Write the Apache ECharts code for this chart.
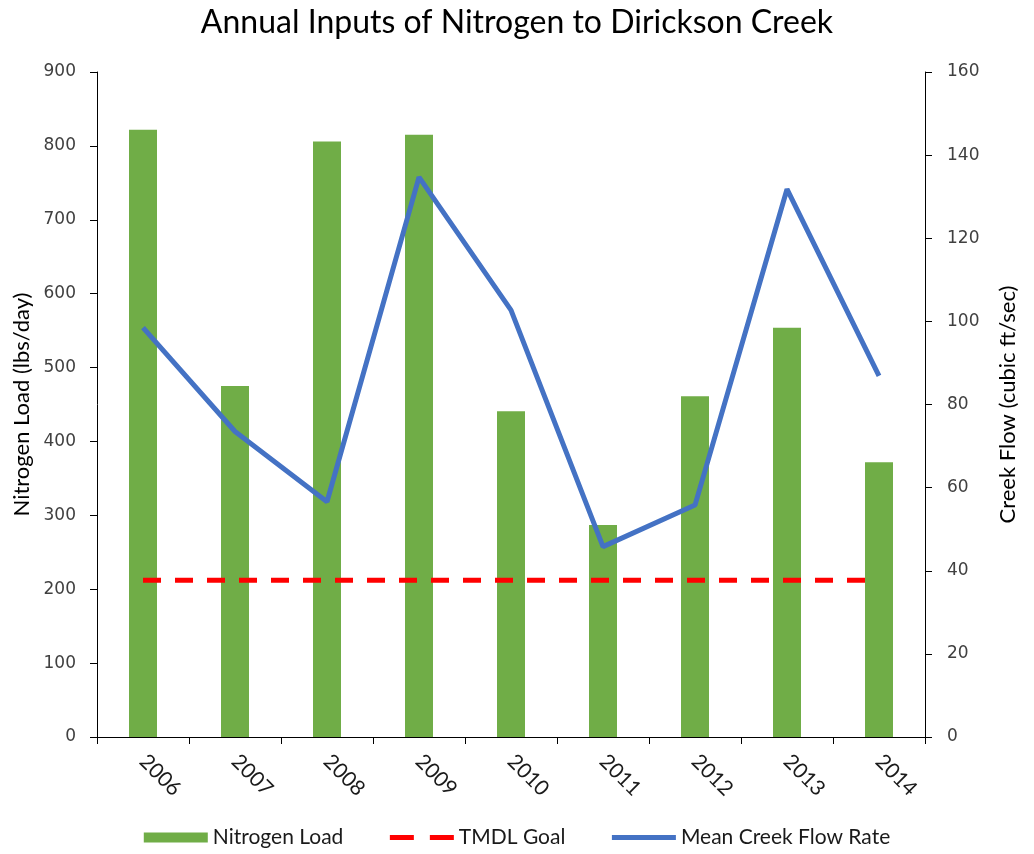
<!DOCTYPE html>
<html>
<head>
<meta charset="utf-8">
<script src="https://cdn.jsdelivr.net/npm/echarts@6/dist/echarts.min.js"></script>
<style>
  html, body { margin: 0; padding: 0; background: #fff; }
  #chart { width: 1034px; height: 854px; }
</style>
</head>
<body>
<div id="chart"></div>
<script>
// data
const years = ["2006", "2007", "2008", "2009", "2010", "2011", "2012", "2013", "2014"];
const nitrogenLoad = [822, 475, 806, 815, 441, 287, 461, 554, 372];
const tmdlGoal = [212, 212, 212, 212, 212, 212, 212, 212, 212];
const creekFlow = [98.5, 73.5, 56.6, 134.7, 102.7, 45.8, 55.8, 131.8, 86.9];

const labelFont = "DejaVu Sans";
const textFont = "Lato";

const chart = echarts.init(document.getElementById("chart"));
chart.setOption({
  animation: false,
  title: {
    text: "Annual Inputs of Nitrogen to Dirickson Creek",
    left: "center",
    top: 2,
    textStyle: { fontFamily: textFont, fontSize: 32, fontWeight: "normal", color: "#000" },
  },
  grid: { left: 97, right: 109, top: 72, bottom: 117 },
  legend: {
    bottom: 1,
    left: "center",
    itemGap: 44,
    itemWidth: 64,
    itemHeight: 10,
    textStyle: { fontFamily: textFont, fontSize: 21, color: "#1a1a1a" },
    data: [
      { name: "Nitrogen Load", icon: "rect" },
      { name: "TMDL Goal", itemStyle: { opacity: 0 }, lineStyle: { width: 5, type: [24, 16] } },
      { name: "Mean Creek Flow Rate", itemStyle: { opacity: 0 }, lineStyle: { width: 5 } },
    ],
  },
  xAxis: {
    type: "category",
    data: years,
    axisLine: { lineStyle: { color: "#000", width: 1 } },
    axisTick: { show: true, length: 7, lineStyle: { color: "#000" } },
    axisLabel: {
      rotate: -45,
      margin: 21,
      fontFamily: textFont,
      fontSize: 21,
      color: "#1a1a1a",
    },
  },
  yAxis: [
    {
      type: "value",
      min: 0,
      max: 900,
      interval: 100,
      name: "Nitrogen Load (lbs/day)",
      nameLocation: "middle",
      nameGap: 64,
      nameTextStyle: { fontFamily: textFont, fontSize: 22, color: "#000" },
      axisLine: { show: true, lineStyle: { color: "#000" } },
      axisTick: { show: true, length: 7, lineStyle: { color: "#000" } },
      splitLine: { show: false },
      axisLabel: { fontFamily: labelFont, fontSize: 17, color: "#404040", margin: 21 },
    },
    {
      type: "value",
      min: 0,
      max: 160,
      interval: 20,
      name: "Creek Flow (cubic ft/sec)",
      nameLocation: "middle",
      nameGap: 72,
      nameRotate: 90,
      nameTextStyle: { fontFamily: textFont, fontSize: 22, color: "#000" },
      axisLine: { show: true, lineStyle: { color: "#000" } },
      axisTick: { show: true, length: 7, lineStyle: { color: "#000" } },
      splitLine: { show: false },
      axisLabel: { fontFamily: labelFont, fontSize: 17, color: "#404040", margin: 22 },
    },
  ],
  series: [
    {
      name: "Nitrogen Load",
      type: "bar",
      data: nitrogenLoad,
      barWidth: 28,
      itemStyle: { color: "#70AD47" },
    },
    {
      name: "TMDL Goal",
      type: "line",
      data: tmdlGoal,
      symbol: "none",
      lineStyle: { color: "#FF0000", width: 5, type: [18, 14] },
      itemStyle: { color: "#FF0000" },
      z: 3,
    },
    {
      name: "Mean Creek Flow Rate",
      type: "line",
      yAxisIndex: 1,
      data: creekFlow,
      symbol: "none",
      lineStyle: { color: "#4472C4", width: 5 },
      itemStyle: { color: "#4472C4" },
      z: 4,
    },
  ],
});
</script>
</body>
</html>
